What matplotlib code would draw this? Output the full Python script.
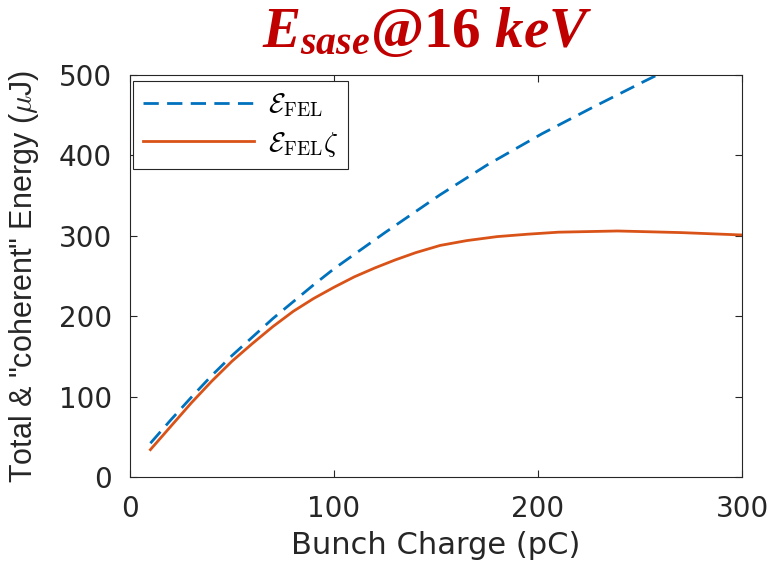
import numpy as np
import matplotlib.pyplot as plt
from matplotlib.font_manager import FontProperties

# values
charge_fel = [10, 20, 30, 40, 50, 60, 70, 80, 90, 100, 110, 125, 152, 175, 202, 227, 252, 260]
energy_fel = [42, 71, 99, 126, 151, 174, 197, 218, 239, 259, 277, 304, 351, 388, 427, 460, 492, 502]

charge_coh = [10, 20, 30, 40, 50, 60, 70, 80, 90, 100, 110, 120, 130, 140, 152, 165, 180, 195,
              210, 239, 270, 300]
energy_coh = [34, 63, 92, 119, 144, 166, 187, 206, 222, 236, 249, 260, 270, 279, 288, 294, 299, 302,
              304.5, 306, 304, 301]

xticks = [0, 100, 200, 300]
yticks = [0, 100, 200, 300, 400, 500]

plt.rcParams['font.family'] = ['DejaVu Sans']
plt.rcParams['mathtext.fontset'] = 'custom'
plt.rcParams['mathtext.it'] = 'Liberation Serif:italic:bold'
plt.rcParams['mathtext.rm'] = 'Liberation Serif:bold'

axcol = '#262626'

fig = plt.figure(figsize=(7.73, 5.81), dpi=100)
ax = fig.add_axes([130/773, 104/581, 612/773, 402/581])

ax.plot(charge_fel, energy_fel, color='#0072BD', lw=2.0, linestyle=(0, (5.5, 3)),
        label=r'$\mathcal{E}_{\rm FEL}$')
ax.plot(charge_coh, energy_coh, color='#D95319', lw=2.0,
        label=r'$\mathcal{E}_{\rm FEL}\zeta$')

ax.set_xlim(0, 300)
ax.set_ylim(0, 500)
ax.set_xticks(xticks)
ax.set_yticks(yticks)
ax.tick_params(direction='in', length=5, width=0.8, color=axcol, labelcolor='#262626',
               labelsize=20, pad=13, top=True, right=True)
for s in ax.spines.values():
    s.set_color(axcol)
    s.set_linewidth(0.8)

ax.set_xlabel('Bunch Charge (pC)', fontsize=22, color='#262626', labelpad=6)
ylab = ax.set_ylabel(r'Total & "coherent" Energy ($\mu$J)', fontsize=22, color='#262626',
                     labelpad=13, family='Liberation Sans')
ylab.set_math_fontfamily('cm')

leg = ax.legend(loc='upper left', bbox_to_anchor=(0.005, 0.985), borderaxespad=0,
                prop=FontProperties(size=20, math_fontfamily='cm'),
                handlelength=4.0, handletextpad=0.5, fancybox=False,
                edgecolor=axcol, framealpha=1, labelspacing=0.35, borderpad=0.35)
leg.get_frame().set_linewidth(0.8)

fig.text(0.553, 1 - 47/581, r'$E_{sase}$@16 $keV$', ha='center', va='baseline',
         fontsize=41, color='#C00000', family='Liberation Serif', weight='bold')

plt.savefig('out.png', dpi=100)
